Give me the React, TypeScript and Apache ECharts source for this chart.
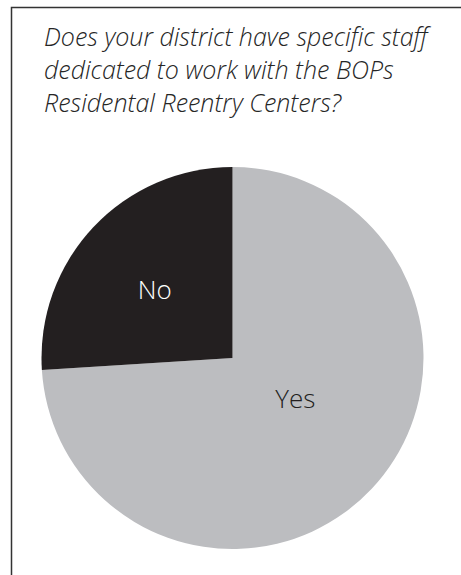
import React, { useEffect, useRef } from "react";
import * as echarts from "echarts";

const categories = ["Yes", "No"];
const values = [74, 26];
const sliceColors = ["#bcbdc0", "#231f20"];
const labelColors = ["#231f20", "#ffffff"];
const titleLines = [
  "Does your district have specific staff",
  "dedicated to work with the BOPs",
  "Residental Reentry Centers?",
];

export default function App() {
  const ref = useRef<HTMLDivElement>(null);
  useEffect(() => {
    if (!ref.current) return;
    const chart = echarts.init(ref.current, null, { renderer: "svg" });
    const offsets: Record<string, [number, number]> = { Yes: [-9, -27], No: [-6, -2] };
    chart.setOption({
      animation: false,
      backgroundColor: "#ffffff",
      title: {
        text: titleLines.join("\n"),
        left: 39,
        top: 14,
        textStyle: {
          fontFamily: "Open Sans",
          fontStyle: "italic",
          fontWeight: 300,
          fontSize: 25,
          lineHeight: 33,
          color: "#262626",
        },
      },
      graphic: [
        {
          type: "polyline",
          shape: { points: [[11.5, 575], [11.5, 7.5], [461, 7.5]] },
          style: { stroke: "#333333", lineWidth: 1.5, fill: null },
        },
      ],
      series: [
        {
          type: "pie",
          center: [232.5, 358],
          radius: 191,
          startAngle: 90,
          clockwise: true,
          label: {
            show: true,
            position: "inside",
            formatter: "{b}",
            fontFamily: "Open Sans",
            fontWeight: 300,
            fontSize: 26,
          },
          labelLine: { show: false },
          labelLayout: (params: any) => {
            const o = offsets[params.text] || [0, 0];
            return { dx: o[0], dy: o[1] };
          },
          emphasis: { disabled: true },
          itemStyle: { borderWidth: 0 },
          data: categories.map((c, i) => ({
            name: c,
            value: values[i],
            itemStyle: { color: sliceColors[i] },
            label: { color: labelColors[i] },
          })),
        },
      ],
    });
    return () => chart.dispose();
  }, []);
  return (
    <div
      ref={ref}
      style={{ position: "fixed", left: 0, top: 0, width: 461, height: 575 }}
    />
  );
}
